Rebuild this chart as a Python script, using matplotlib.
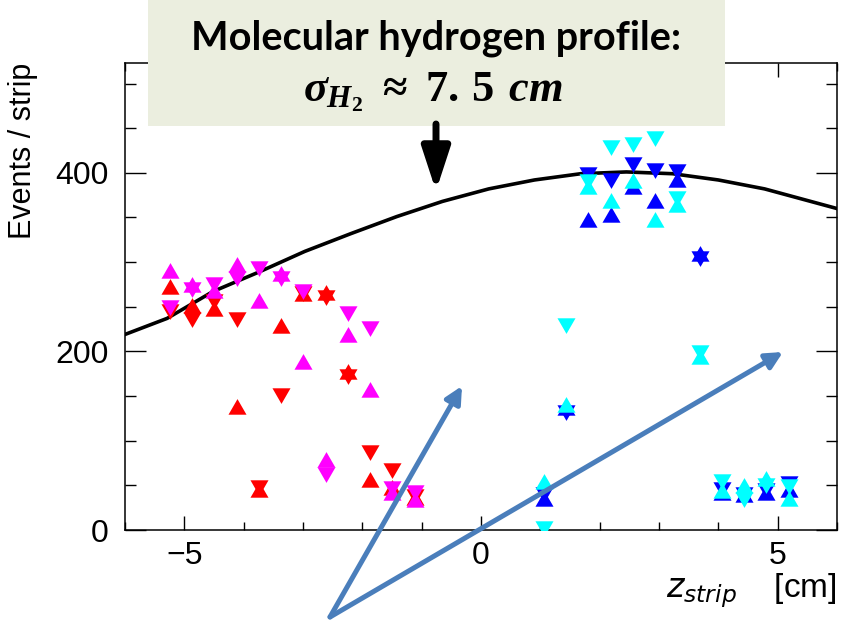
import matplotlib
matplotlib.use("Agg")
import matplotlib.pyplot as plt
from matplotlib.patches import Rectangle, FancyArrowPatch
from matplotlib.ticker import MultipleLocator

# strip positions [cm]
z_left = [-5.25, -4.87, -4.50, -4.12, -3.75, -3.37, -3.00, -2.62, -2.25, -1.87, -1.50, -1.12]
z_right = [1.06, 1.44, 1.81, 2.19, 2.56, 2.94, 3.31, 3.69, 4.06, 4.44, 4.81, 5.19]

# events per strip (up / down triangles)
red_up = [270, 249, 245, 136, 43, 226, 262, 263, 175, 54, 45, 34]
red_down = [248, 238, 259, 239, 50, 153, 268, 263, 175, 90, 69, 40]
mag_up = [288, 272, 265, 294, 254, 284, 186, 76, 216, 155, 39, 31]
mag_down = [252, 272, 278, 285, 296, 284, 270, 65, 245, 228, 49, 45]

blue_up = [33, 134, 345, 351, 382, 366, 390, 307, 39, 37, 39, 43]
blue_down = [42, 134, 401, 394, 412, 405, 404, 307, 48, 43, 47, 55]
cyan_up = [52, 138, 382, 366, 389, 345, 362, 192, 41, 47, 55, 33]
cyan_down = [4, 232, 393, 431, 435, 441, 374, 202, 57, 37, 53, 52]

# molecular hydrogen profile
z_prof = [-6.0, -5.29, -4.52, -3.74, -2.97, -2.19, -1.42, -0.65, 0.13, 0.90, 1.68, 2.45, 3.23, 4.00, 4.78, 6.0]
v_prof = [219, 237, 267, 289, 312, 332, 351, 368, 382, 392, 399, 401, 399, 392, 382, 360]

W, H = 846, 620
plt.rcParams["font.family"] = ["Liberation Sans", "DejaVu Sans"]
plt.rcParams["mathtext.fontset"] = "custom"
plt.rcParams["mathtext.it"] = "Liberation Serif:italic:bold"
plt.rcParams["mathtext.rm"] = "Liberation Serif:bold"
plt.rcParams["mathtext.bf"] = "Liberation Serif:bold"

# ROOT-like triangles, centred on the centroid
TRI_UP = [(0, 1), (-0.866, -0.5), (0.866, -0.5), (0, 1)]
TRI_DN = [(0, -1), (-0.866, 0.5), (0.866, 0.5), (0, -1)]


def fpx(x, y):
    # pixel position (from top-left) -> figure fraction
    return (x / W, 1 - y / H)


fig = plt.figure(figsize=(W / 100, H / 100), dpi=100)
ax = fig.add_axes([125 / W, 90 / H, (837 - 125) / W, (530 - 63) / H])

ax.plot(z_prof, v_prof, color="black", lw=2.6, zorder=2)

ms = 15
for z, up, dn, c in [(z_left, red_up, red_down, "#ff0000"),
                     (z_left, mag_up, mag_down, "#ff00ff"),
                     (z_right, blue_up, blue_down, "#0000ff"),
                     (z_right, cyan_up, cyan_down, "#00ffff")]:
    ax.plot(z, up, ls="none", marker=TRI_UP, ms=ms, mew=0, color=c, zorder=3)
    ax.plot(z, dn, ls="none", marker=TRI_DN, ms=ms, mew=0, color=c, zorder=3)

ax.set_xlim(-6, 6)
ax.set_ylim(0, 523)
ax.xaxis.set_major_locator(MultipleLocator(5))
ax.xaxis.set_minor_locator(MultipleLocator(1))
ax.yaxis.set_major_locator(MultipleLocator(200))
ax.yaxis.set_minor_locator(MultipleLocator(50))
ax.tick_params(which="both", direction="in", top=True, right=True, labelsize=23, width=1)
ax.tick_params(axis="x", which="major", length=10, pad=8)
ax.tick_params(axis="x", which="minor", length=5.5)
ax.tick_params(axis="y", which="major", length=15, pad=12)
ax.tick_params(axis="y", which="minor", length=8)
for s in ax.spines.values():
    s.set_linewidth(1.1)

ax.set_ylabel("Events / strip", loc="top", fontsize=22, labelpad=12)
ax.set_xlabel(r"$z_{strip}$    [cm]", loc="right", fontsize=24, labelpad=0,
              math_fontfamily="dejavusans")

# annotation box with arrow
fig.add_artist(Rectangle(fpx(148, 126), (725 - 148) / W, 126 / H,
                         transform=fig.transFigure, facecolor="#EBEEDF",
                         edgecolor="none", zorder=5))
fig.text(*fpx(436, 38), "Molecular hydrogen profile:", ha="center", va="center",
         fontsize=28.5, fontweight="bold", family="Lato", zorder=6)
fig.text(*fpx(433, 92), r"$\sigma_{H_2}\ \approx\ 7.\,5\;\, cm$", ha="center", va="center",
         fontsize=32, zorder=6)
fig.add_artist(FancyArrowPatch(fpx(436, 124), fpx(436, 191), transform=fig.transFigure,
                               arrowstyle="-|>,head_length=26,head_width=8.5",
                               mutation_scale=1, lw=5, color="black",
                               shrinkA=0, shrinkB=0, zorder=6))

# blue pointer lines
for end in [(462, 386), (783, 352)]:
    fig.add_artist(FancyArrowPatch(fpx(330, 617), fpx(*end), transform=fig.transFigure,
                                   arrowstyle="-|>,head_length=10,head_width=5",
                                   mutation_scale=1, lw=3.6, color="#4A7EBB",
                                   shrinkA=0, shrinkB=0, zorder=7))

fig.savefig("out.png", dpi=100)
